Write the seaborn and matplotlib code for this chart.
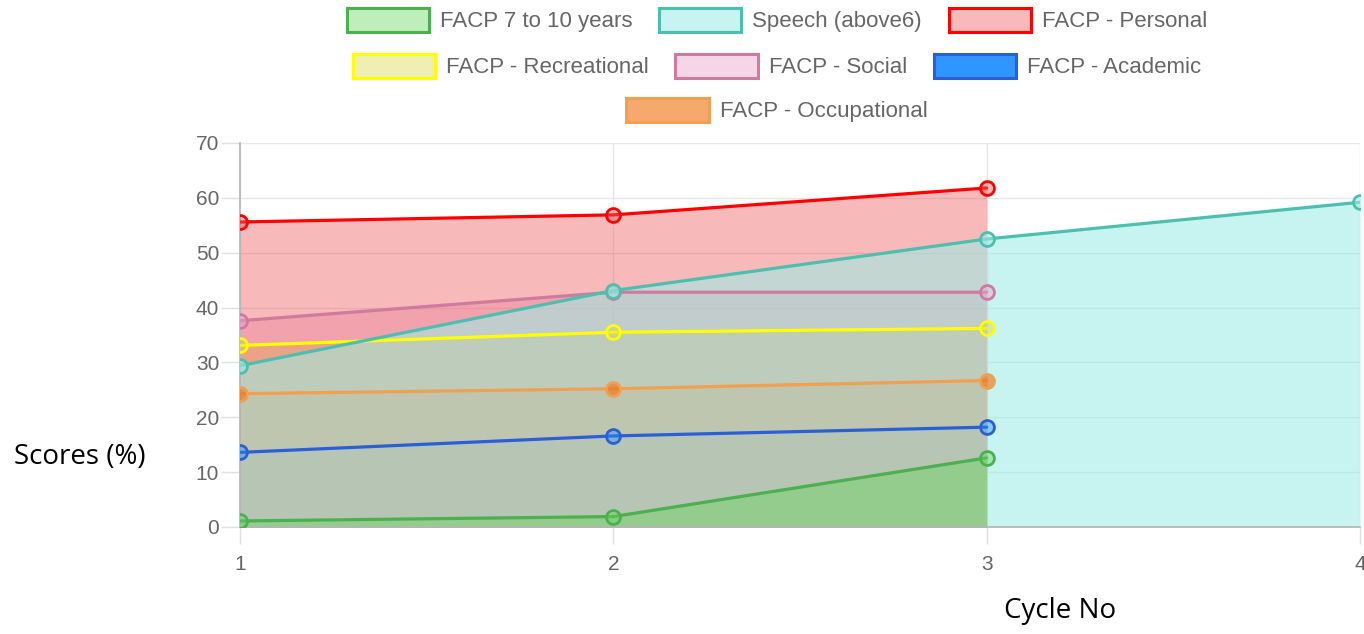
import matplotlib
matplotlib.use("Agg")
import numpy as np
import pandas as pd
import matplotlib.pyplot as plt
import seaborn as sns
from matplotlib.patches import Patch

# data
cycles = [1, 2, 3, 4]
series_names = ["FACP 7 to 10 years", "Speech (above6)", "FACP - Personal",
                "FACP - Recreational", "FACP - Social", "FACP - Academic",
                "FACP - Occupational"]
facp_7_10 = [1.1, 1.9, 12.6]
speech = [29.4, 43.1, 52.5, 59.2]
personal = [55.6, 56.9, 61.8]
recreational = [33.1, 35.5, 36.2]
social = [37.6, 42.8, 42.8]
academic = [13.6, 16.6, 18.2]
occupational = [24.3, 25.2, 26.7]
all_values = [facp_7_10, speech, personal, recreational, social, academic, occupational]

line_colors = ["#4caf50", "#4dbfb0", "#ff0000", "#ffff00", "#d07aa0", "#2a5fd6", "#f0a050"]
fill_colors = [(100, 215, 90, 0.42), (158, 237, 229, 0.57), (236, 90, 90, 0.42),
               (220, 220, 80, 0.43), (235, 165, 205, 0.45), (30, 144, 255, 0.40),
               (240, 113, 13, 0.60)]
fill_colors = [(r / 255, g / 255, b / 255, a) for r, g, b, a in fill_colors]
legend_fill = [c for c in fill_colors]
legend_fill[5] = "#2f95ff"

rows = []
for name, vals in zip(series_names, all_values):
    for c, v in zip(cycles, vals):
        rows.append({"cycle": c, "score": v, "series": name})
df = pd.DataFrame(rows)

sns.set_theme(style="white")
plt.rcParams['font.family'] = ['Liberation Sans', 'DejaVu Sans']

fig = plt.figure(figsize=(13.64, 6.34), dpi=100)
ax = fig.add_axes([240 / 1364, 107 / 634, 1120 / 1364, 384 / 634])

# fills first, first series drawn on top
for i in reversed(range(len(series_names))):
    sub = df[df.series == series_names[i]]
    ax.fill_between(sub.cycle, sub.score, 0, color=fill_colors[i], lw=0, zorder=1 + (7 - i) * 0.1)

for i in reversed(range(len(series_names))):
    sub = df[df.series == series_names[i]]
    sns.lineplot(data=sub, x="cycle", y="score", ax=ax, color=line_colors[i], lw=2.3,
                 marker="o", markersize=10, markerfacecolor=fill_colors[i],
                 markeredgecolor=line_colors[i], markeredgewidth=2, zorder=3 + (7 - i) * 0.1,
                 legend=False)

ax.set_xlim(1, 4)
ax.set_ylim(0, 70)
ax.set_xticks(cycles)
ax.set_yticks(range(0, 71, 10))
ax.set_xlabel("")
ax.set_ylabel("")
ax.grid(True, color="#e6e6e6", lw=1)
ax.set_axisbelow(True)
for s in ["top", "right"]:
    ax.spines[s].set_visible(False)
for s in ["left", "bottom"]:
    ax.spines[s].set_color("#b4b4b4")
    ax.spines[s].set_linewidth(1.2)
ax.tick_params(axis="y", direction="out", length=14, width=1, color="#e0e0e0",
               labelcolor="#666666", labelsize=15, pad=1)
ax.tick_params(axis="x", direction="out", length=12, width=1, color="#e0e0e0",
               labelcolor="#666666", labelsize=15, pad=8)
ax.tick_params(left=True, bottom=True)

fig.text(80 / 1364, 1 - 457 / 634, "Scores (%)", ha="center", va="center",
         fontsize=20, family="Open Sans", color="black")
fig.text(1060 / 1364, 1 - 611 / 634, "Cycle No", ha="center", va="center",
         fontsize=20, family="Open Sans", color="black")

handles = [Patch(facecolor=legend_fill[i], edgecolor=line_colors[i], lw=2.2) for i in range(7)]
row_sets = [[0, 1, 2], [3, 4, 5], [6]]
row_y = [20, 66, 110]
for idx, yy in zip(row_sets, row_y):
    fig.legend([handles[i] for i in idx], [series_names[i] for i in idx],
               loc="center", bbox_to_anchor=(777 / 1364, 1 - yy / 634), ncol=len(idx),
               frameon=False, fontsize=16, handlelength=3.7, handleheight=1.3,
               handletextpad=0.5, columnspacing=1.2, labelcolor="#666666")

fig.savefig("out.png", dpi=100)
